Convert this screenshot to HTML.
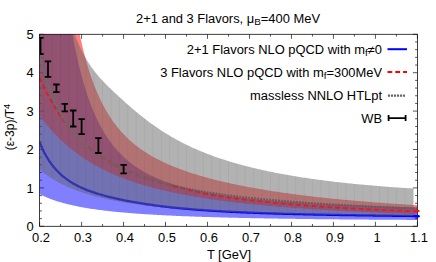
<!DOCTYPE html>
<html><head><meta charset="utf-8"><title>chart</title>
<style>
html,body{margin:0;padding:0;background:#fff;}
body{width:436px;height:262px;position:relative;overflow:hidden;font-family:"Liberation Sans",sans-serif;}
.t{position:absolute;font-size:12px;line-height:14px;color:#000;white-space:nowrap;}
.sub{font-size:9.2px;position:relative;top:2.4px;line-height:0}
.sup{font-size:9.2px;position:relative;top:-4.5px;line-height:0}
</style></head><body>
<svg width="436" height="262" viewBox="0 0 436 262" style="position:absolute;left:0;top:0">
<defs><clipPath id="c"><rect x="39.6" y="34.3" width="377.79999999999995" height="192.0"/></clipPath></defs>
<path d="M39.60,226.3 v-4.5 M39.60,34.3 v4.5 M60.59,226.3 v-2.3 M60.59,34.3 v2.3 M81.58,226.3 v-4.5 M81.58,34.3 v4.5 M102.57,226.3 v-2.3 M102.57,34.3 v2.3 M123.56,226.3 v-4.5 M123.56,34.3 v4.5 M144.54,226.3 v-2.3 M144.54,34.3 v2.3 M165.53,226.3 v-4.5 M165.53,34.3 v4.5 M186.52,226.3 v-2.3 M186.52,34.3 v2.3 M207.51,226.3 v-4.5 M207.51,34.3 v4.5 M228.50,226.3 v-2.3 M228.50,34.3 v2.3 M249.49,226.3 v-4.5 M249.49,34.3 v4.5 M270.48,226.3 v-2.3 M270.48,34.3 v2.3 M291.47,226.3 v-4.5 M291.47,34.3 v4.5 M312.46,226.3 v-2.3 M312.46,34.3 v2.3 M333.44,226.3 v-4.5 M333.44,34.3 v4.5 M354.43,226.3 v-2.3 M354.43,34.3 v2.3 M375.42,226.3 v-4.5 M375.42,34.3 v4.5 M396.41,226.3 v-2.3 M396.41,34.3 v2.3 M417.40,226.3 v-4.5 M417.40,34.3 v4.5 M39.6,226.30 h4.5 M417.4,226.30 h-4.5 M39.6,218.62 h2.3 M417.4,218.62 h-2.3 M39.6,210.94 h2.3 M417.4,210.94 h-2.3 M39.6,203.26 h2.3 M417.4,203.26 h-2.3 M39.6,195.58 h2.3 M417.4,195.58 h-2.3 M39.6,187.90 h4.5 M417.4,187.90 h-4.5 M39.6,180.22 h2.3 M417.4,180.22 h-2.3 M39.6,172.54 h2.3 M417.4,172.54 h-2.3 M39.6,164.86 h2.3 M417.4,164.86 h-2.3 M39.6,157.18 h2.3 M417.4,157.18 h-2.3 M39.6,149.50 h4.5 M417.4,149.50 h-4.5 M39.6,141.82 h2.3 M417.4,141.82 h-2.3 M39.6,134.14 h2.3 M417.4,134.14 h-2.3 M39.6,126.46 h2.3 M417.4,126.46 h-2.3 M39.6,118.78 h2.3 M417.4,118.78 h-2.3 M39.6,111.10 h4.5 M417.4,111.10 h-4.5 M39.6,103.42 h2.3 M417.4,103.42 h-2.3 M39.6,95.74 h2.3 M417.4,95.74 h-2.3 M39.6,88.06 h2.3 M417.4,88.06 h-2.3 M39.6,80.38 h2.3 M417.4,80.38 h-2.3 M39.6,72.70 h4.5 M417.4,72.70 h-4.5 M39.6,65.02 h2.3 M417.4,65.02 h-2.3 M39.6,57.34 h2.3 M417.4,57.34 h-2.3 M39.6,49.66 h2.3 M417.4,49.66 h-2.3 M39.6,41.98 h2.3 M417.4,41.98 h-2.3 M39.6,34.30 h4.5 M417.4,34.30 h-4.5" fill="none" stroke="#111" stroke-width="0.7"/>
<g clip-path="url(#c)">
<path d="M39.60,-363.81 L41.06,-330.32 L42.52,-299.25 L43.98,-270.39 L45.43,-243.55 L46.89,-218.56 L48.35,-195.26 L49.81,-173.52 L51.27,-153.21 L52.73,-134.21 L54.19,-116.43 L55.65,-99.77 L57.10,-84.14 L58.56,-69.47 L60.02,-55.68 L61.48,-42.71 L62.94,-30.51 L64.40,-19.01 L65.86,-8.17 L67.32,2.05 L68.77,11.71 L70.23,20.84 L71.69,29.46 L73.15,37.62 L74.61,45.27 L76.07,52.43 L77.53,59.14 L78.98,65.44 L80.44,71.36 L81.90,76.92 L83.36,82.16 L84.82,87.11 L86.28,91.77 L87.74,96.18 L89.20,100.34 L90.65,104.28 L92.11,108.02 L93.57,111.56 L95.03,114.92 L96.49,118.11 L97.95,121.14 L99.41,124.03 L100.86,126.78 L102.32,129.40 L103.78,131.89 L105.24,134.28 L106.70,136.55 L108.16,138.73 L109.62,140.80 L111.08,142.79 L112.53,144.70 L113.99,146.52 L115.45,148.27 L116.91,149.94 L118.37,151.55 L119.83,153.10 L121.29,154.58 L122.75,156.01 L124.20,157.38 L125.66,158.70 L127.12,159.97 L128.58,161.20 L130.04,162.38 L131.50,163.51 L132.96,164.61 L134.41,165.67 L135.87,166.69 L137.33,167.68 L138.79,168.63 L140.25,169.55 L141.71,170.44 L143.17,171.31 L144.63,172.14 L146.08,172.95 L147.54,173.73 L149.00,174.49 L150.46,175.22 L151.92,175.93 L153.38,176.62 L154.84,177.29 L156.29,177.94 L157.75,178.57 L159.21,179.19 L160.67,179.78 L162.13,180.36 L163.59,180.92 L165.05,181.47 L166.51,182.00 L167.96,182.52 L169.42,183.02 L170.88,183.51 L172.34,183.99 L173.80,184.45 L175.26,184.90 L176.72,185.34 L178.18,185.77 L179.63,186.19 L181.09,186.60 L182.55,187.00 L184.01,187.39 L185.47,187.77 L186.93,188.14 L188.39,188.50 L189.84,188.85 L191.30,189.19 L192.76,189.53 L194.22,189.86 L195.68,190.18 L197.14,190.49 L198.60,190.80 L200.06,191.10 L201.51,191.39 L202.97,191.68 L204.43,191.96 L205.89,192.24 L207.35,192.50 L208.81,192.77 L210.27,193.03 L211.73,193.28 L213.18,193.52 L214.64,193.77 L216.10,194.00 L217.56,194.24 L219.02,194.46 L220.48,194.69 L221.94,194.91 L223.39,195.12 L224.85,195.33 L226.31,195.54 L227.77,195.74 L229.23,195.94 L230.69,196.14 L232.15,196.33 L233.61,196.52 L235.06,196.70 L236.52,196.88 L237.98,197.06 L239.44,197.24 L240.90,197.41 L242.36,197.58 L243.82,197.74 L245.27,197.91 L246.73,198.07 L248.19,198.22 L249.65,198.38 L251.11,198.53 L252.57,198.68 L254.03,198.83 L255.49,198.97 L256.94,199.11 L258.40,199.25 L259.86,199.39 L261.32,199.53 L262.78,199.66 L264.24,199.79 L265.70,199.92 L267.16,200.05 L268.61,200.18 L270.07,200.30 L271.53,200.42 L272.99,200.54 L274.45,200.66 L275.91,200.78 L277.37,200.89 L278.82,201.00 L280.28,201.12 L281.74,201.23 L283.20,201.33 L284.66,201.44 L286.12,201.55 L287.58,201.65 L289.04,201.75 L290.49,201.85 L291.95,201.95 L293.41,202.05 L294.87,202.15 L296.33,202.24 L297.79,202.34 L299.25,202.43 L300.71,202.52 L302.16,202.61 L303.62,202.70 L305.08,202.79 L306.54,202.88 L308.00,202.96 L309.46,203.05 L310.92,203.13 L312.37,203.22 L313.83,203.30 L315.29,203.38 L316.75,203.46 L318.21,203.54 L319.67,203.62 L321.13,203.69 L322.59,203.77 L324.04,203.85 L325.50,203.92 L326.96,203.99 L328.42,204.07 L329.88,204.14 L331.34,204.21 L332.80,204.28 L334.25,204.35 L335.71,204.42 L337.17,204.49 L338.63,204.55 L340.09,204.62 L341.55,204.69 L343.01,204.75 L344.47,204.82 L345.92,204.88 L347.38,204.94 L348.84,205.01 L350.30,205.07 L351.76,205.13 L353.22,205.19 L354.68,205.25 L356.14,205.31 L357.59,205.37 L359.05,205.43 L360.51,205.48 L361.97,205.54 L363.43,205.60 L364.89,205.65 L366.35,205.71 L367.80,205.76 L369.26,205.82 L370.72,205.87 L372.18,205.93 L373.64,205.98 L375.10,206.03 L376.56,206.08 L378.02,206.13 L379.47,206.19 L380.93,206.24 L382.39,206.29 L383.85,206.34 L385.31,206.39 L386.77,206.44 L388.23,206.48 L389.68,206.53 L391.14,206.58 L392.60,206.63 L394.06,206.67 L395.52,206.72 L396.98,206.77 L398.44,206.81 L399.90,206.86 L401.35,206.90 L402.81,206.95 L404.27,206.99 L405.73,207.04 L407.19,207.08 L408.65,207.12 L410.11,207.17 L411.57,207.21 L413.02,207.25 L414.48,207.29 L415.94,207.34 L417.40,207.38 L417.40,219.93 L415.94,219.92 L414.48,219.92 L413.02,219.91 L411.57,219.90 L410.11,219.89 L408.65,219.89 L407.19,219.88 L405.73,219.87 L404.27,219.86 L402.81,219.85 L401.35,219.84 L399.90,219.84 L398.44,219.83 L396.98,219.82 L395.52,219.81 L394.06,219.80 L392.60,219.79 L391.14,219.78 L389.68,219.77 L388.23,219.76 L386.77,219.76 L385.31,219.75 L383.85,219.74 L382.39,219.73 L380.93,219.72 L379.47,219.71 L378.02,219.70 L376.56,219.69 L375.10,219.68 L373.64,219.67 L372.18,219.66 L370.72,219.64 L369.26,219.63 L367.80,219.62 L366.35,219.61 L364.89,219.60 L363.43,219.59 L361.97,219.58 L360.51,219.57 L359.05,219.55 L357.59,219.54 L356.14,219.53 L354.68,219.52 L353.22,219.51 L351.76,219.49 L350.30,219.48 L348.84,219.47 L347.38,219.45 L345.92,219.44 L344.47,219.43 L343.01,219.41 L341.55,219.40 L340.09,219.39 L338.63,219.37 L337.17,219.36 L335.71,219.35 L334.25,219.33 L332.80,219.32 L331.34,219.30 L329.88,219.29 L328.42,219.27 L326.96,219.26 L325.50,219.24 L324.04,219.23 L322.59,219.21 L321.13,219.19 L319.67,219.18 L318.21,219.16 L316.75,219.14 L315.29,219.13 L313.83,219.11 L312.37,219.09 L310.92,219.08 L309.46,219.06 L308.00,219.04 L306.54,219.02 L305.08,219.00 L303.62,218.98 L302.16,218.97 L300.71,218.95 L299.25,218.93 L297.79,218.91 L296.33,218.89 L294.87,218.87 L293.41,218.85 L291.95,218.83 L290.49,218.81 L289.04,218.79 L287.58,218.76 L286.12,218.74 L284.66,218.72 L283.20,218.70 L281.74,218.68 L280.28,218.65 L278.82,218.63 L277.37,218.61 L275.91,218.58 L274.45,218.56 L272.99,218.54 L271.53,218.51 L270.07,218.49 L268.61,218.46 L267.16,218.44 L265.70,218.41 L264.24,218.38 L262.78,218.36 L261.32,218.33 L259.86,218.30 L258.40,218.28 L256.94,218.25 L255.49,218.22 L254.03,218.19 L252.57,218.16 L251.11,218.13 L249.65,218.10 L248.19,218.07 L246.73,218.04 L245.27,218.01 L243.82,217.98 L242.36,217.95 L240.90,217.91 L239.44,217.88 L237.98,217.85 L236.52,217.81 L235.06,217.78 L233.61,217.75 L232.15,217.71 L230.69,217.67 L229.23,217.64 L227.77,217.60 L226.31,217.56 L224.85,217.53 L223.39,217.49 L221.94,217.45 L220.48,217.41 L219.02,217.37 L217.56,217.33 L216.10,217.29 L214.64,217.24 L213.18,217.20 L211.73,217.16 L210.27,217.12 L208.81,217.07 L207.35,217.03 L205.89,216.98 L204.43,216.93 L202.97,216.89 L201.51,216.84 L200.06,216.79 L198.60,216.74 L197.14,216.69 L195.68,216.64 L194.22,216.58 L192.76,216.53 L191.30,216.48 L189.84,216.42 L188.39,216.37 L186.93,216.31 L185.47,216.25 L184.01,216.20 L182.55,216.14 L181.09,216.08 L179.63,216.01 L178.18,215.95 L176.72,215.89 L175.26,215.82 L173.80,215.76 L172.34,215.69 L170.88,215.62 L169.42,215.55 L167.96,215.48 L166.51,215.41 L165.05,215.34 L163.59,215.26 L162.13,215.19 L160.67,215.11 L159.21,215.03 L157.75,214.95 L156.29,214.87 L154.84,214.79 L153.38,214.70 L151.92,214.62 L150.46,214.53 L149.00,214.44 L147.54,214.35 L146.08,214.25 L144.63,214.16 L143.17,214.06 L141.71,213.96 L140.25,213.86 L138.79,213.76 L137.33,213.66 L135.87,213.55 L134.41,213.44 L132.96,213.33 L131.50,213.21 L130.04,213.10 L128.58,212.98 L127.12,212.86 L125.66,212.73 L124.20,212.60 L122.75,212.47 L121.29,212.34 L119.83,212.21 L118.37,212.07 L116.91,211.92 L115.45,211.78 L113.99,211.63 L112.53,211.48 L111.08,211.32 L109.62,211.16 L108.16,211.00 L106.70,210.83 L105.24,210.66 L103.78,210.48 L102.32,210.30 L100.86,210.12 L99.41,209.93 L97.95,209.73 L96.49,209.53 L95.03,209.33 L93.57,209.11 L92.11,208.90 L90.65,208.67 L89.20,208.45 L87.74,208.21 L86.28,207.97 L84.82,207.72 L83.36,207.46 L81.90,207.20 L80.44,206.93 L78.98,206.65 L77.53,206.36 L76.07,206.06 L74.61,205.76 L73.15,205.44 L71.69,205.12 L70.23,204.78 L68.77,204.43 L67.32,204.08 L65.86,203.71 L64.40,203.32 L62.94,202.93 L61.48,202.52 L60.02,202.09 L58.56,201.65 L57.10,201.20 L55.65,200.72 L54.19,200.23 L52.73,199.73 L51.27,199.20 L49.81,198.65 L48.35,198.08 L46.89,197.49 L45.43,196.87 L43.98,196.23 L42.52,195.56 L41.06,194.86 L39.60,194.13Z" fill="#0000ff" fill-opacity="0.5"/>
<path d="M39.60,142.31 L41.06,145.79 L42.52,148.99 L43.98,151.95 L45.43,154.69 L46.89,157.23 L48.35,159.59 L49.81,161.79 L51.27,163.84 L52.73,165.76 L54.19,167.55 L55.65,169.23 L57.10,170.81 L58.56,172.30 L60.02,173.70 L61.48,175.02 L62.94,176.27 L64.40,177.45 L65.86,178.57 L67.32,179.64 L68.77,180.64 L70.23,181.60 L71.69,182.52 L73.15,183.39 L74.61,184.22 L76.07,185.02 L77.53,185.78 L78.98,186.51 L80.44,187.20 L81.90,187.87 L83.36,188.52 L84.82,189.14 L86.28,189.73 L87.74,190.31 L89.20,190.86 L90.65,191.39 L92.11,191.91 L93.57,192.41 L95.03,192.89 L96.49,193.36 L97.95,193.82 L99.41,194.26 L100.86,194.69 L102.32,195.10 L103.78,195.51 L105.24,195.90 L106.70,196.29 L108.16,196.66 L109.62,197.03 L111.08,197.38 L112.53,197.73 L113.99,198.07 L115.45,198.40 L116.91,198.73 L118.37,199.05 L119.83,199.36 L121.29,199.67 L122.75,199.97 L124.20,200.26 L125.66,200.55 L127.12,200.83 L128.58,201.11 L130.04,201.39 L131.50,201.65 L132.96,201.92 L134.41,202.18 L135.87,202.43 L137.33,202.68 L138.79,202.92 L140.25,203.16 L141.71,203.40 L143.17,203.63 L144.63,203.86 L146.08,204.08 L147.54,204.30 L149.00,204.51 L150.46,204.72 L151.92,204.92 L153.38,205.13 L154.84,205.32 L156.29,205.52 L157.75,205.71 L159.21,205.90 L160.67,206.08 L162.13,206.26 L163.59,206.43 L165.05,206.61 L166.51,206.78 L167.96,206.94 L169.42,207.11 L170.88,207.27 L172.34,207.42 L173.80,207.58 L175.26,207.73 L176.72,207.88 L178.18,208.02 L179.63,208.16 L181.09,208.30 L182.55,208.44 L184.01,208.58 L185.47,208.71 L186.93,208.84 L188.39,208.96 L189.84,209.09 L191.30,209.21 L192.76,209.33 L194.22,209.45 L195.68,209.56 L197.14,209.68 L198.60,209.79 L200.06,209.90 L201.51,210.00 L202.97,210.11 L204.43,210.21 L205.89,210.31 L207.35,210.41 L208.81,210.50 L210.27,210.60 L211.73,210.69 L213.18,210.78 L214.64,210.87 L216.10,210.96 L217.56,211.05 L219.02,211.13 L220.48,211.22 L221.94,211.30 L223.39,211.38 L224.85,211.46 L226.31,211.53 L227.77,211.61 L229.23,211.69 L230.69,211.76 L232.15,211.83 L233.61,211.90 L235.06,211.97 L236.52,212.04 L237.98,212.11 L239.44,212.17 L240.90,212.24 L242.36,212.30 L243.82,212.37 L245.27,212.43 L246.73,212.49 L248.19,212.55 L249.65,212.61 L251.11,212.67 L252.57,212.72 L254.03,212.78 L255.49,212.84 L256.94,212.89 L258.40,212.94 L259.86,213.00 L261.32,213.05 L262.78,213.10 L264.24,213.15 L265.70,213.20 L267.16,213.25 L268.61,213.30 L270.07,213.34 L271.53,213.39 L272.99,213.44 L274.45,213.48 L275.91,213.52 L277.37,213.57 L278.82,213.61 L280.28,213.65 L281.74,213.70 L283.20,213.74 L284.66,213.78 L286.12,213.82 L287.58,213.86 L289.04,213.90 L290.49,213.93 L291.95,213.97 L293.41,214.01 L294.87,214.05 L296.33,214.08 L297.79,214.12 L299.25,214.15 L300.71,214.19 L302.16,214.22 L303.62,214.26 L305.08,214.29 L306.54,214.32 L308.00,214.35 L309.46,214.39 L310.92,214.42 L312.37,214.45 L313.83,214.48 L315.29,214.51 L316.75,214.54 L318.21,214.57 L319.67,214.60 L321.13,214.63 L322.59,214.66 L324.04,214.69 L325.50,214.72 L326.96,214.74 L328.42,214.77 L329.88,214.80 L331.34,214.82 L332.80,214.85 L334.25,214.88 L335.71,214.90 L337.17,214.93 L338.63,214.95 L340.09,214.98 L341.55,215.00 L343.01,215.03 L344.47,215.05 L345.92,215.08 L347.38,215.10 L348.84,215.13 L350.30,215.15 L351.76,215.17 L353.22,215.19 L354.68,215.22 L356.14,215.24 L357.59,215.26 L359.05,215.28 L360.51,215.31 L361.97,215.33 L363.43,215.35 L364.89,215.37 L366.35,215.39 L367.80,215.41 L369.26,215.43 L370.72,215.45 L372.18,215.47 L373.64,215.49 L375.10,215.51 L376.56,215.53 L378.02,215.55 L379.47,215.57 L380.93,215.59 L382.39,215.61 L383.85,215.63 L385.31,215.65 L386.77,215.67 L388.23,215.69 L389.68,215.70 L391.14,215.72 L392.60,215.74 L394.06,215.76 L395.52,215.78 L396.98,215.79 L398.44,215.81 L399.90,215.83 L401.35,215.85 L402.81,215.86 L404.27,215.88 L405.73,215.90 L407.19,215.92 L408.65,215.93 L410.11,215.95 L411.57,215.97 L413.02,215.98 L414.48,216.00 L415.94,216.01 L417.40,216.03" fill="none" stroke="#0000ff" stroke-width="2.3"/>
<path d="M39.60,-401.02 L41.06,-369.09 L42.52,-339.27 L43.98,-311.41 L45.43,-285.35 L46.89,-260.94 L48.35,-238.05 L49.81,-216.57 L51.27,-196.40 L52.73,-177.42 L54.19,-159.57 L55.65,-142.74 L57.10,-126.88 L58.56,-111.92 L60.02,-97.78 L61.48,-84.42 L62.94,-71.78 L64.40,-59.82 L65.86,-48.48 L67.32,-37.74 L68.77,-27.55 L70.23,-17.87 L71.69,-8.68 L73.15,0.06 L74.61,8.37 L76.07,16.28 L77.53,23.81 L78.98,30.99 L80.44,37.82 L81.90,44.23 L83.36,50.24 L84.82,55.90 L86.28,61.21 L87.74,66.22 L89.20,70.94 L90.65,75.40 L92.11,79.61 L93.57,83.60 L95.03,87.38 L96.49,90.96 L97.95,94.36 L99.41,97.59 L100.86,100.66 L102.32,103.58 L103.78,106.37 L105.24,109.03 L106.70,111.56 L108.16,113.99 L109.62,116.30 L111.08,118.52 L112.53,120.64 L113.99,122.67 L115.45,124.62 L116.91,126.50 L118.37,128.30 L119.83,130.02 L121.29,131.69 L122.75,133.29 L124.20,134.83 L125.66,136.31 L127.12,137.75 L128.58,139.13 L130.04,140.46 L131.50,141.75 L132.96,143.00 L134.41,144.21 L135.87,145.38 L137.33,146.51 L138.79,147.60 L140.25,148.67 L141.71,149.70 L143.17,150.70 L144.63,151.67 L146.08,152.61 L147.54,153.53 L149.00,154.42 L150.46,155.29 L151.92,156.14 L153.38,156.96 L154.84,157.76 L156.29,158.55 L157.75,159.31 L159.21,160.06 L160.67,160.78 L162.13,161.49 L163.59,162.19 L165.05,162.86 L166.51,163.53 L167.96,164.18 L169.42,164.81 L170.88,165.43 L172.34,166.04 L173.80,166.64 L175.26,167.22 L176.72,167.80 L178.18,168.36 L179.63,168.91 L181.09,169.45 L182.55,169.99 L184.01,170.51 L185.47,171.02 L186.93,171.53 L188.39,172.02 L189.84,172.51 L191.30,172.99 L192.76,173.46 L194.22,173.92 L195.68,174.37 L197.14,174.82 L198.60,175.26 L200.06,175.69 L201.51,176.12 L202.97,176.54 L204.43,176.95 L205.89,177.36 L207.35,177.76 L208.81,178.15 L210.27,178.54 L211.73,178.92 L213.18,179.30 L214.64,179.67 L216.10,180.04 L217.56,180.40 L219.02,180.75 L220.48,181.10 L221.94,181.45 L223.39,181.79 L224.85,182.13 L226.31,182.46 L227.77,182.79 L229.23,183.11 L230.69,183.43 L232.15,183.74 L233.61,184.05 L235.06,184.36 L236.52,184.66 L237.98,184.96 L239.44,185.25 L240.90,185.54 L242.36,185.83 L243.82,186.12 L245.27,186.40 L246.73,186.67 L248.19,186.95 L249.65,187.22 L251.11,187.49 L252.57,187.75 L254.03,188.01 L255.49,188.27 L256.94,188.53 L258.40,188.78 L259.86,189.03 L261.32,189.28 L262.78,189.52 L264.24,189.76 L265.70,190.00 L267.16,190.24 L268.61,190.47 L270.07,190.70 L271.53,190.93 L272.99,191.16 L274.45,191.38 L275.91,191.60 L277.37,191.82 L278.82,192.04 L280.28,192.26 L281.74,192.47 L283.20,192.68 L284.66,192.89 L286.12,193.09 L287.58,193.30 L289.04,193.50 L290.49,193.70 L291.95,193.90 L293.41,194.09 L294.87,194.29 L296.33,194.48 L297.79,194.67 L299.25,194.86 L300.71,195.04 L302.16,195.23 L303.62,195.41 L305.08,195.59 L306.54,195.77 L308.00,195.95 L309.46,196.12 L310.92,196.29 L312.37,196.47 L313.83,196.63 L315.29,196.80 L316.75,196.97 L318.21,197.13 L319.67,197.30 L321.13,197.46 L322.59,197.62 L324.04,197.77 L325.50,197.93 L326.96,198.08 L328.42,198.24 L329.88,198.39 L331.34,198.54 L332.80,198.69 L334.25,198.83 L335.71,198.98 L337.17,199.12 L338.63,199.26 L340.09,199.41 L341.55,199.54 L343.01,199.68 L344.47,199.82 L345.92,199.95 L347.38,200.09 L348.84,200.22 L350.30,200.35 L351.76,200.48 L353.22,200.61 L354.68,200.74 L356.14,200.86 L357.59,200.99 L359.05,201.11 L360.51,201.23 L361.97,201.35 L363.43,201.47 L364.89,201.59 L366.35,201.71 L367.80,201.83 L369.26,201.94 L370.72,202.06 L372.18,202.17 L373.64,202.28 L375.10,202.39 L376.56,202.50 L378.02,202.61 L379.47,202.71 L380.93,202.82 L382.39,202.93 L383.85,203.03 L385.31,203.13 L386.77,203.24 L388.23,203.34 L389.68,203.44 L391.14,203.54 L392.60,203.63 L394.06,203.73 L395.52,203.83 L396.98,203.92 L398.44,204.02 L399.90,204.11 L401.35,204.20 L402.81,204.29 L404.27,204.38 L405.73,204.47 L407.19,204.56 L408.65,204.65 L410.11,204.74 L411.57,204.82 L413.02,204.91 L414.48,204.99 L415.94,205.08 L417.40,205.16 L417.40,214.12 L415.94,214.07 L414.48,214.02 L413.02,213.97 L411.57,213.92 L410.11,213.87 L408.65,213.82 L407.19,213.77 L405.73,213.72 L404.27,213.66 L402.81,213.61 L401.35,213.56 L399.90,213.50 L398.44,213.45 L396.98,213.39 L395.52,213.34 L394.06,213.28 L392.60,213.23 L391.14,213.17 L389.68,213.11 L388.23,213.06 L386.77,213.00 L385.31,212.94 L383.85,212.88 L382.39,212.82 L380.93,212.76 L379.47,212.70 L378.02,212.64 L376.56,212.58 L375.10,212.51 L373.64,212.45 L372.18,212.39 L370.72,212.32 L369.26,212.26 L367.80,212.19 L366.35,212.13 L364.89,212.06 L363.43,212.00 L361.97,211.93 L360.51,211.86 L359.05,211.79 L357.59,211.72 L356.14,211.65 L354.68,211.58 L353.22,211.51 L351.76,211.44 L350.30,211.37 L348.84,211.29 L347.38,211.22 L345.92,211.14 L344.47,211.07 L343.01,210.99 L341.55,210.92 L340.09,210.84 L338.63,210.76 L337.17,210.68 L335.71,210.60 L334.25,210.52 L332.80,210.44 L331.34,210.36 L329.88,210.27 L328.42,210.19 L326.96,210.10 L325.50,210.02 L324.04,209.93 L322.59,209.85 L321.13,209.76 L319.67,209.67 L318.21,209.58 L316.75,209.49 L315.29,209.40 L313.83,209.30 L312.37,209.21 L310.92,209.12 L309.46,209.02 L308.00,208.92 L306.54,208.83 L305.08,208.73 L303.62,208.63 L302.16,208.53 L300.71,208.43 L299.25,208.32 L297.79,208.22 L296.33,208.11 L294.87,208.01 L293.41,207.90 L291.95,207.79 L290.49,207.68 L289.04,207.57 L287.58,207.46 L286.12,207.35 L284.66,207.23 L283.20,207.12 L281.74,207.00 L280.28,206.88 L278.82,206.76 L277.37,206.64 L275.91,206.52 L274.45,206.40 L272.99,206.27 L271.53,206.14 L270.07,206.02 L268.61,205.89 L267.16,205.76 L265.70,205.62 L264.24,205.49 L262.78,205.35 L261.32,205.22 L259.86,205.08 L258.40,204.94 L256.94,204.80 L255.49,204.65 L254.03,204.51 L252.57,204.36 L251.11,204.21 L249.65,204.06 L248.19,203.91 L246.73,203.75 L245.27,203.60 L243.82,203.44 L242.36,203.28 L240.90,203.12 L239.44,202.95 L237.98,202.79 L236.52,202.62 L235.06,202.45 L233.61,202.27 L232.15,202.10 L230.69,201.92 L229.23,201.74 L227.77,201.56 L226.31,201.38 L224.85,201.19 L223.39,201.00 L221.94,200.81 L220.48,200.62 L219.02,200.42 L217.56,200.22 L216.10,200.02 L214.64,199.81 L213.18,199.61 L211.73,199.40 L210.27,199.18 L208.81,198.97 L207.35,198.75 L205.89,198.52 L204.43,198.30 L202.97,198.07 L201.51,197.84 L200.06,197.60 L198.60,197.37 L197.14,197.12 L195.68,196.88 L194.22,196.63 L192.76,196.38 L191.30,196.12 L189.84,195.86 L188.39,195.60 L186.93,195.33 L185.47,195.06 L184.01,194.78 L182.55,194.50 L181.09,194.22 L179.63,193.93 L178.18,193.64 L176.72,193.34 L175.26,193.04 L173.80,192.73 L172.34,192.42 L170.88,192.11 L169.42,191.79 L167.96,191.46 L166.51,191.13 L165.05,190.79 L163.59,190.45 L162.13,190.10 L160.67,189.75 L159.21,189.39 L157.75,189.02 L156.29,188.65 L154.84,188.28 L153.38,187.89 L151.92,187.50 L150.46,187.10 L149.00,186.70 L147.54,186.29 L146.08,185.87 L144.63,185.45 L143.17,185.02 L141.71,184.58 L140.25,184.13 L138.79,183.67 L137.33,183.21 L135.87,182.74 L134.41,182.26 L132.96,181.77 L131.50,181.27 L130.04,180.76 L128.58,180.25 L127.12,179.72 L125.66,179.19 L124.20,178.64 L122.75,178.08 L121.29,177.52 L119.83,176.94 L118.37,176.35 L116.91,175.75 L115.45,175.14 L113.99,174.51 L112.53,173.88 L111.08,173.23 L109.62,172.57 L108.16,171.89 L106.70,171.20 L105.24,170.50 L103.78,169.78 L102.32,169.05 L100.86,168.30 L99.41,167.54 L97.95,166.76 L96.49,165.97 L95.03,165.16 L93.57,164.33 L92.11,163.48 L90.65,162.62 L89.20,161.73 L87.74,160.83 L86.28,159.90 L84.82,158.96 L83.36,158.00 L81.90,157.01 L80.44,156.00 L78.98,154.97 L77.53,153.91 L76.07,152.84 L74.61,151.73 L73.15,150.60 L71.69,149.45 L70.23,148.26 L68.77,147.05 L67.32,145.81 L65.86,144.54 L64.40,143.25 L62.94,141.91 L61.48,140.55 L60.02,139.16 L58.56,137.73 L57.10,136.26 L55.65,134.76 L54.19,133.22 L52.73,131.65 L51.27,130.03 L49.81,128.38 L48.35,126.68 L46.89,124.94 L45.43,123.16 L43.98,121.33 L42.52,119.46 L41.06,117.53 L39.60,115.57Z" fill="#ff0000" fill-opacity="0.5"/>
<path d="M39.60,-117.67 L41.04,-108.01 L42.49,-98.78 L43.93,-89.94 L45.37,-81.49 L46.82,-73.38 L48.26,-65.62 L49.71,-58.17 L51.15,-51.02 L52.59,-44.15 L54.04,-37.56 L55.48,-31.21 L56.92,-25.11 L58.37,-19.23 L59.81,-13.57 L61.25,-8.12 L62.70,-2.86 L64.14,2.22 L65.59,7.11 L67.03,11.84 L68.47,16.40 L69.92,20.82 L71.36,25.08 L72.80,29.21 L74.25,33.20 L75.69,37.03 L77.13,40.63 L78.58,44.01 L80.02,47.19 L81.47,50.19 L82.91,53.03 L84.35,55.71 L85.80,58.25 L87.24,60.67 L88.68,62.97 L90.13,65.17 L91.57,67.26 L93.01,69.27 L94.46,71.19 L95.90,73.03 L97.35,74.81 L98.79,76.52 L100.23,78.18 L101.68,79.78 L103.12,81.33 L104.56,82.83 L106.01,84.31 L107.45,85.75 L108.89,87.16 L110.34,88.55 L111.78,89.93 L113.23,91.29 L114.67,92.64 L116.11,93.98 L117.56,95.31 L119.00,96.65 L120.44,97.97 L121.89,99.29 L123.33,100.60 L124.77,101.90 L126.22,103.19 L127.66,104.47 L129.11,105.74 L130.55,107.00 L131.99,108.25 L133.44,109.48 L134.88,110.70 L136.32,111.91 L137.77,113.10 L139.21,114.28 L140.65,115.45 L142.10,116.60 L143.54,117.73 L144.98,118.85 L146.43,119.96 L147.87,121.05 L149.32,122.13 L150.76,123.19 L152.20,124.23 L153.65,125.26 L155.09,126.28 L156.53,127.28 L157.98,128.26 L159.42,129.23 L160.86,130.19 L162.31,131.13 L163.75,132.05 L165.20,132.96 L166.64,133.85 L168.08,134.74 L169.53,135.60 L170.97,136.45 L172.41,137.29 L173.86,138.11 L175.30,138.92 L176.74,139.72 L178.19,140.50 L179.63,141.27 L181.08,142.03 L182.52,142.77 L183.96,143.50 L185.41,144.22 L186.85,144.93 L188.29,145.62 L189.74,146.31 L191.18,146.98 L192.62,147.64 L194.07,148.29 L195.51,148.94 L196.96,149.57 L198.40,150.19 L199.84,150.80 L201.29,151.40 L202.73,151.99 L204.17,152.57 L205.62,153.14 L207.06,153.71 L208.50,154.26 L209.95,154.81 L211.39,155.35 L212.84,155.88 L214.28,156.40 L215.72,156.91 L217.17,157.42 L218.61,157.92 L220.05,158.41 L221.50,158.89 L222.94,159.37 L224.38,159.84 L225.83,160.30 L227.27,160.76 L228.72,161.20 L230.16,161.65 L231.60,162.08 L233.05,162.51 L234.49,162.93 L235.93,163.35 L237.38,163.76 L238.82,164.17 L240.26,164.57 L241.71,164.96 L243.15,165.35 L244.60,165.73 L246.04,166.11 L247.48,166.48 L248.93,166.85 L250.37,167.21 L251.81,167.56 L253.26,167.91 L254.70,168.26 L256.14,168.60 L257.59,168.94 L259.03,169.27 L260.48,169.60 L261.92,169.92 L263.36,170.24 L264.81,170.56 L266.25,170.87 L267.69,171.17 L269.14,171.48 L270.58,171.77 L272.02,172.07 L273.47,172.36 L274.91,172.65 L276.36,172.93 L277.80,173.21 L279.24,173.48 L280.69,173.75 L282.13,174.02 L283.57,174.29 L285.02,174.55 L286.46,174.81 L287.90,175.06 L289.35,175.31 L290.79,175.56 L292.24,175.80 L293.68,176.05 L295.12,176.28 L296.57,176.52 L298.01,176.75 L299.45,176.98 L300.90,177.21 L302.34,177.43 L303.78,177.65 L305.23,177.87 L306.67,178.09 L308.12,178.30 L309.56,178.51 L311.00,178.72 L312.45,178.92 L313.89,179.12 L315.33,179.32 L316.78,179.52 L318.22,179.72 L319.66,179.91 L321.11,180.10 L322.55,180.29 L323.99,180.47 L325.44,180.66 L326.88,180.84 L328.33,181.02 L329.77,181.19 L331.21,181.37 L332.66,181.54 L334.10,181.71 L335.54,181.88 L336.99,182.05 L338.43,182.21 L339.87,182.37 L341.32,182.53 L342.76,182.69 L344.21,182.85 L345.65,183.00 L347.09,183.16 L348.54,183.31 L349.98,183.46 L351.42,183.60 L352.87,183.75 L354.31,183.89 L355.75,184.04 L357.20,184.18 L358.64,184.32 L360.09,184.45 L361.53,184.59 L362.97,184.72 L364.42,184.86 L365.86,184.99 L367.30,185.12 L368.75,185.24 L370.19,185.37 L371.63,185.50 L373.08,185.62 L374.52,185.74 L375.97,185.86 L377.41,185.98 L378.85,186.10 L380.30,186.22 L381.74,186.33 L383.18,186.45 L384.63,186.56 L386.07,186.67 L387.51,186.78 L388.96,186.89 L390.40,186.99 L391.85,187.10 L393.29,187.21 L394.73,187.31 L396.18,187.41 L397.62,187.51 L399.06,187.61 L400.51,187.71 L401.95,187.81 L403.39,187.91 L404.84,188.00 L406.28,188.10 L407.73,188.19 L409.17,188.28 L410.61,188.37 L412.06,188.46 L413.50,188.55 L413.50,215.98 L412.06,215.97 L410.61,215.96 L409.17,215.95 L407.73,215.94 L406.28,215.92 L404.84,215.91 L403.39,215.90 L401.95,215.89 L400.51,215.87 L399.06,215.86 L397.62,215.85 L396.18,215.83 L394.73,215.82 L393.29,215.81 L391.85,215.79 L390.40,215.78 L388.96,215.76 L387.51,215.75 L386.07,215.74 L384.63,215.72 L383.18,215.71 L381.74,215.69 L380.30,215.67 L378.85,215.66 L377.41,215.64 L375.97,215.63 L374.52,215.61 L373.08,215.59 L371.63,215.58 L370.19,215.56 L368.75,215.54 L367.30,215.52 L365.86,215.50 L364.42,215.49 L362.97,215.47 L361.53,215.45 L360.09,215.43 L358.64,215.41 L357.20,215.39 L355.75,215.37 L354.31,215.35 L352.87,215.33 L351.42,215.31 L349.98,215.29 L348.54,215.27 L347.09,215.25 L345.65,215.22 L344.21,215.20 L342.76,215.18 L341.32,215.16 L339.87,215.13 L338.43,215.11 L336.99,215.09 L335.54,215.06 L334.10,215.04 L332.66,215.01 L331.21,214.99 L329.77,214.96 L328.33,214.94 L326.88,214.91 L325.44,214.88 L323.99,214.86 L322.55,214.83 L321.11,214.80 L319.66,214.77 L318.22,214.75 L316.78,214.72 L315.33,214.69 L313.89,214.66 L312.45,214.63 L311.00,214.60 L309.56,214.57 L308.12,214.54 L306.67,214.51 L305.23,214.47 L303.78,214.44 L302.34,214.41 L300.90,214.37 L299.45,214.34 L298.01,214.31 L296.57,214.27 L295.12,214.24 L293.68,214.20 L292.24,214.17 L290.79,214.13 L289.35,214.09 L287.90,214.05 L286.46,214.02 L285.02,213.98 L283.57,213.94 L282.13,213.90 L280.69,213.86 L279.24,213.82 L277.80,213.78 L276.36,213.74 L274.91,213.69 L273.47,213.65 L272.02,213.61 L270.58,213.56 L269.14,213.52 L267.69,213.47 L266.25,213.43 L264.81,213.38 L263.36,213.33 L261.92,213.28 L260.48,213.23 L259.03,213.18 L257.59,213.13 L256.14,213.08 L254.70,213.03 L253.26,212.98 L251.81,212.93 L250.37,212.87 L248.93,212.82 L247.48,212.76 L246.04,212.71 L244.60,212.65 L243.15,212.59 L241.71,212.53 L240.26,212.47 L238.82,212.41 L237.38,212.35 L235.93,212.29 L234.49,212.23 L233.05,212.16 L231.60,212.10 L230.16,212.03 L228.72,211.97 L227.27,211.90 L225.83,211.83 L224.38,211.76 L222.94,211.69 L221.50,211.61 L220.05,211.54 L218.61,211.47 L217.17,211.39 L215.72,211.32 L214.28,211.24 L212.84,211.16 L211.39,211.08 L209.95,211.00 L208.50,210.91 L207.06,210.83 L205.62,210.74 L204.17,210.66 L202.73,210.57 L201.29,210.48 L199.84,210.39 L198.40,210.30 L196.96,210.20 L195.51,210.11 L194.07,210.01 L192.62,209.91 L191.18,209.81 L189.74,209.71 L188.29,209.60 L186.85,209.50 L185.41,209.39 L183.96,209.28 L182.52,209.17 L181.08,209.06 L179.63,208.94 L178.19,208.83 L176.74,208.71 L175.30,208.59 L173.86,208.46 L172.41,208.34 L170.97,208.21 L169.53,208.08 L168.08,207.95 L166.64,207.81 L165.20,207.68 L163.75,207.54 L162.31,207.39 L160.86,207.25 L159.42,207.10 L157.98,206.95 L156.53,206.80 L155.09,206.64 L153.65,206.49 L152.20,206.32 L150.76,206.16 L149.32,205.99 L147.87,205.82 L146.43,205.65 L144.98,205.47 L143.54,205.29 L142.10,205.10 L140.65,204.91 L139.21,204.72 L137.77,204.52 L136.32,204.32 L134.88,204.12 L133.44,203.91 L131.99,203.70 L130.55,203.48 L129.11,203.26 L127.66,203.03 L126.22,202.80 L124.77,202.56 L123.33,202.32 L121.89,202.07 L120.44,201.82 L119.00,201.56 L117.56,201.30 L116.11,201.03 L114.67,200.75 L113.23,200.47 L111.78,200.18 L110.34,199.88 L108.89,199.58 L107.45,199.27 L106.01,198.95 L104.56,198.63 L103.12,198.30 L101.68,197.96 L100.23,197.61 L98.79,197.25 L97.35,196.89 L95.90,196.51 L94.46,196.13 L93.01,195.73 L91.57,195.33 L90.13,194.91 L88.68,194.49 L87.24,194.05 L85.80,193.60 L84.35,193.14 L82.91,192.67 L81.47,192.18 L80.02,191.68 L78.58,191.17 L77.13,190.64 L75.69,190.10 L74.25,189.55 L72.80,188.97 L71.36,188.38 L69.92,187.78 L68.47,187.15 L67.03,186.51 L65.59,185.85 L64.14,185.16 L62.70,184.46 L61.25,183.73 L59.81,182.99 L58.37,182.22 L56.92,181.42 L55.48,180.60 L54.04,179.75 L52.59,178.88 L51.15,177.98 L49.71,177.04 L48.26,176.08 L46.82,175.08 L45.37,174.05 L43.93,172.98 L42.49,171.88 L41.04,170.74 L39.60,169.56Z" fill="#666666" fill-opacity="0.5"/>
<path d="M39.60,77.73 L40.55,79.88 L41.49,81.98 L42.44,84.03 L43.39,86.04 L44.33,88.00 L45.28,89.92 L46.23,91.80 L47.17,93.64 L48.12,95.44 L49.07,97.21 L50.02,98.93 L50.96,100.62 L51.91,102.27 L52.86,103.90 L53.80,105.48 L54.75,107.04 L55.70,108.56 L56.64,110.05 L57.59,111.52 L58.54,112.95 L59.48,114.36 L60.43,115.73 L61.38,117.09 L62.32,118.37 L63.27,119.58 L64.22,120.79 L65.17,121.99 L66.11,123.19 L67.06,124.37 L68.01,125.55 L68.95,126.71 L69.90,127.86 L70.85,129.00 L71.79,130.13 L72.74,131.23 L73.69,132.32 L74.63,133.40 L75.58,134.46 L76.53,135.50 L77.47,136.52 L78.42,137.53 L79.37,138.52 L80.32,139.49 L81.26,140.44 L82.21,141.38 L83.16,142.29 L84.10,143.18 L85.05,144.05 L86.00,144.90 L86.94,145.74 L87.89,146.56 L88.84,147.36 L89.78,148.15 L90.73,148.92 L91.68,149.68 L92.62,150.43 L93.57,151.16 L94.52,151.88 L95.47,152.59 L96.41,153.28 L97.36,153.97 L98.31,154.64 L99.25,155.30 L100.20,155.95 L101.15,156.59 L102.09,157.22 L103.04,157.83 L103.99,158.44 L104.93,159.04 L105.88,159.63 L106.83,160.21 L107.77,160.78 L108.72,161.35 L109.67,161.90 L110.62,162.44 L111.56,162.98 L112.51,163.51 L113.46,164.03 L114.40,164.54 L115.35,165.04 L116.30,165.54 L117.24,166.03 L118.19,166.51 L119.14,166.99 L120.08,167.45 L121.03,167.92 L121.98,168.37 L122.92,168.82 L123.87,169.26 L124.82,169.69 L125.76,170.12 L126.71,170.54 L127.66,170.96 L128.61,171.37 L129.55,171.77 L130.50,172.17 L131.45,172.57 L132.39,172.95 L133.34,173.33 L134.29,173.71 L135.23,174.08 L136.18,174.45 L137.13,174.81 L138.07,175.17 L139.02,175.52 L139.97,175.87 L140.91,176.21 L141.86,176.55 L142.81,176.88 L143.76,177.21 L144.70,177.53 L145.65,177.85 L146.60,178.17 L147.54,178.48 L148.49,178.79 L149.44,179.09 L150.38,179.39 L151.33,179.69 L152.28,179.98 L153.22,180.27 L154.17,180.56 L155.12,180.84 L156.06,181.12 L157.01,181.39 L157.96,181.66 L158.91,181.95 L159.85,182.23 L160.80,182.51 L161.75,182.79 L162.69,183.07 L163.64,183.34 L164.59,183.61 L165.53,183.88 L166.48,184.15 L167.43,184.42 L168.37,184.68 L169.32,184.94 L170.27,185.20 L171.21,185.46 L172.16,185.71 L173.11,185.97 L174.06,186.22 L175.00,186.47 L175.95,186.72 L176.90,186.97 L177.84,187.21 L178.79,187.45 L179.74,187.70 L180.68,187.94 L181.63,188.18 L182.58,188.41 L183.52,188.65 L184.47,188.88 L185.42,189.12 L186.36,189.35 L187.31,189.58 L188.26,189.81 L189.21,190.04 L190.15,190.26 L191.10,190.49 L192.05,190.71 L192.99,190.93 L193.94,191.16 L194.89,191.38 L195.83,191.60 L196.78,191.81 L197.73,192.03 L198.67,192.25 L199.62,192.46 L200.57,192.68 L201.51,192.89 L202.46,193.10 L203.41,193.31 L204.35,193.52 L205.30,193.72 L206.25,193.89 L207.20,194.05 L208.14,194.22 L209.09,194.39 L210.04,194.55 L210.98,194.71 L211.93,194.87 L212.88,195.03 L213.82,195.19 L214.77,195.34 L215.72,195.50 L216.66,195.65 L217.61,195.80 L218.56,195.95 L219.50,196.10 L220.45,196.25 L221.40,196.39 L222.35,196.54 L223.29,196.68 L224.24,196.82 L225.19,196.97 L226.13,197.11 L227.08,197.24 L228.03,197.38 L228.97,197.52 L229.92,197.65 L230.87,197.78 L231.81,197.92 L232.76,198.05 L233.71,198.18 L234.65,198.31 L235.60,198.44 L236.55,198.56 L237.50,198.69 L238.44,198.81 L239.39,198.94 L240.34,199.06 L241.28,199.18 L242.23,199.30 L243.18,199.42 L244.12,199.54 L245.07,199.66 L246.02,199.77 L246.96,199.89 L247.91,200.00 L248.86,200.12 L249.80,200.23 L250.75,200.34 L251.70,200.45 L252.65,200.56 L253.59,200.67 L254.54,200.78 L255.49,200.88 L256.43,200.99 L257.38,201.10 L258.33,201.20 L259.27,201.30 L260.22,201.41 L261.17,201.51 L262.11,201.61 L263.06,201.71 L264.01,201.81 L264.95,201.91 L265.90,202.01 L266.85,202.11 L267.79,202.20 L268.74,202.30 L269.69,202.39 L270.64,202.49 L271.58,202.58 L272.53,202.67 L273.48,202.77 L274.42,202.86 L275.37,202.95 L276.32,203.04 L277.26,203.13 L278.21,203.22 L279.16,203.30 L280.10,203.39 L281.05,203.48 L282.00,203.56 L282.94,203.65 L283.89,203.74 L284.84,203.82 L285.79,203.90 L286.73,203.99 L287.68,204.07 L288.63,204.15 L289.57,204.23 L290.52,204.31 L291.47,204.39 L292.41,204.47 L293.36,204.55 L294.31,204.63 L295.25,204.71 L296.20,204.78 L297.15,204.86 L298.09,204.94 L299.04,205.01 L299.99,205.09 L300.94,205.16 L301.88,205.23 L302.83,205.31 L303.78,205.38 L304.72,205.45 L305.67,205.52 L306.62,205.60 L307.56,205.67 L308.51,205.74 L309.46,205.81 L310.40,205.88 L311.35,205.94 L312.30,206.01 L313.24,206.08 L314.19,206.15 L315.14,206.22 L316.09,206.28 L317.03,206.35 L317.98,206.41 L318.93,206.48 L319.87,206.54 L320.82,206.61 L321.77,206.67 L322.71,206.74 L323.66,206.80 L324.61,206.86 L325.55,206.92 L326.50,206.98 L327.45,207.05 L328.39,207.11 L329.34,207.17 L330.29,207.23 L331.24,207.29 L332.18,207.35 L333.13,207.41 L334.08,207.46 L335.02,207.52 L335.97,207.58 L336.92,207.64 L337.86,207.70 L338.81,207.75 L339.76,207.81 L340.70,207.86 L341.65,207.92 L342.60,207.98 L343.54,208.03 L344.49,208.09 L345.44,208.14 L346.38,208.19 L347.33,208.25 L348.28,208.30 L349.23,208.35 L350.17,208.41 L351.12,208.46 L352.07,208.51 L353.01,208.56 L353.96,208.61 L354.91,208.66 L355.85,208.71 L356.80,208.76 L357.75,208.81 L358.69,208.86 L359.64,208.91 L360.59,208.96 L361.53,209.01 L362.48,209.06 L363.43,209.11 L364.38,209.16 L365.32,209.20 L366.27,209.25 L367.22,209.30 L368.16,209.35 L369.11,209.39 L370.06,209.44 L371.00,209.48 L371.95,209.53 L372.90,209.57 L373.84,209.62 L374.79,209.66 L375.74,209.71 L376.68,209.75 L377.63,209.80 L378.58,209.84 L379.53,209.89 L380.47,209.93 L381.42,209.97 L382.37,210.01 L383.31,210.06 L384.26,210.10 L385.21,210.14 L386.15,210.18 L387.10,210.23 L388.05,210.27 L388.99,210.31 L389.94,210.35 L390.89,210.39 L391.83,210.43 L392.78,210.47 L393.73,210.51 L394.68,210.55 L395.62,210.59 L396.57,210.63 L397.52,210.67 L398.46,210.71 L399.41,210.74 L400.36,210.78 L401.30,210.82 L402.25,210.86 L403.20,210.90 L404.14,210.93 L405.09,210.97 L406.04,211.01 L406.98,211.05 L407.93,211.08 L408.88,211.12 L409.83,211.16 L410.77,211.19 L411.72,211.23 L412.67,211.26 L413.61,211.30 L414.56,211.33 L415.51,211.37 L416.45,211.40 L417.40,211.44" fill="none" stroke="#dc2020" stroke-width="1.9" stroke-dasharray="4.8,3"/>
<clipPath id="gc"><path d="M39.60,-117.67 L41.04,-108.01 L42.49,-98.78 L43.93,-89.94 L45.37,-81.49 L46.82,-73.38 L48.26,-65.62 L49.71,-58.17 L51.15,-51.02 L52.59,-44.15 L54.04,-37.56 L55.48,-31.21 L56.92,-25.11 L58.37,-19.23 L59.81,-13.57 L61.25,-8.12 L62.70,-2.86 L64.14,2.22 L65.59,7.11 L67.03,11.84 L68.47,16.40 L69.92,20.82 L71.36,25.08 L72.80,29.21 L74.25,33.20 L75.69,37.03 L77.13,40.63 L78.58,44.01 L80.02,47.19 L81.47,50.19 L82.91,53.03 L84.35,55.71 L85.80,58.25 L87.24,60.67 L88.68,62.97 L90.13,65.17 L91.57,67.26 L93.01,69.27 L94.46,71.19 L95.90,73.03 L97.35,74.81 L98.79,76.52 L100.23,78.18 L101.68,79.78 L103.12,81.33 L104.56,82.83 L106.01,84.31 L107.45,85.75 L108.89,87.16 L110.34,88.55 L111.78,89.93 L113.23,91.29 L114.67,92.64 L116.11,93.98 L117.56,95.31 L119.00,96.65 L120.44,97.97 L121.89,99.29 L123.33,100.60 L124.77,101.90 L126.22,103.19 L127.66,104.47 L129.11,105.74 L130.55,107.00 L131.99,108.25 L133.44,109.48 L134.88,110.70 L136.32,111.91 L137.77,113.10 L139.21,114.28 L140.65,115.45 L142.10,116.60 L143.54,117.73 L144.98,118.85 L146.43,119.96 L147.87,121.05 L149.32,122.13 L150.76,123.19 L152.20,124.23 L153.65,125.26 L155.09,126.28 L156.53,127.28 L157.98,128.26 L159.42,129.23 L160.86,130.19 L162.31,131.13 L163.75,132.05 L165.20,132.96 L166.64,133.85 L168.08,134.74 L169.53,135.60 L170.97,136.45 L172.41,137.29 L173.86,138.11 L175.30,138.92 L176.74,139.72 L178.19,140.50 L179.63,141.27 L181.08,142.03 L182.52,142.77 L183.96,143.50 L185.41,144.22 L186.85,144.93 L188.29,145.62 L189.74,146.31 L191.18,146.98 L192.62,147.64 L194.07,148.29 L195.51,148.94 L196.96,149.57 L198.40,150.19 L199.84,150.80 L201.29,151.40 L202.73,151.99 L204.17,152.57 L205.62,153.14 L207.06,153.71 L208.50,154.26 L209.95,154.81 L211.39,155.35 L212.84,155.88 L214.28,156.40 L215.72,156.91 L217.17,157.42 L218.61,157.92 L220.05,158.41 L221.50,158.89 L222.94,159.37 L224.38,159.84 L225.83,160.30 L227.27,160.76 L228.72,161.20 L230.16,161.65 L231.60,162.08 L233.05,162.51 L234.49,162.93 L235.93,163.35 L237.38,163.76 L238.82,164.17 L240.26,164.57 L241.71,164.96 L243.15,165.35 L244.60,165.73 L246.04,166.11 L247.48,166.48 L248.93,166.85 L250.37,167.21 L251.81,167.56 L253.26,167.91 L254.70,168.26 L256.14,168.60 L257.59,168.94 L259.03,169.27 L260.48,169.60 L261.92,169.92 L263.36,170.24 L264.81,170.56 L266.25,170.87 L267.69,171.17 L269.14,171.48 L270.58,171.77 L272.02,172.07 L273.47,172.36 L274.91,172.65 L276.36,172.93 L277.80,173.21 L279.24,173.48 L280.69,173.75 L282.13,174.02 L283.57,174.29 L285.02,174.55 L286.46,174.81 L287.90,175.06 L289.35,175.31 L290.79,175.56 L292.24,175.80 L293.68,176.05 L295.12,176.28 L296.57,176.52 L298.01,176.75 L299.45,176.98 L300.90,177.21 L302.34,177.43 L303.78,177.65 L305.23,177.87 L306.67,178.09 L308.12,178.30 L309.56,178.51 L311.00,178.72 L312.45,178.92 L313.89,179.12 L315.33,179.32 L316.78,179.52 L318.22,179.72 L319.66,179.91 L321.11,180.10 L322.55,180.29 L323.99,180.47 L325.44,180.66 L326.88,180.84 L328.33,181.02 L329.77,181.19 L331.21,181.37 L332.66,181.54 L334.10,181.71 L335.54,181.88 L336.99,182.05 L338.43,182.21 L339.87,182.37 L341.32,182.53 L342.76,182.69 L344.21,182.85 L345.65,183.00 L347.09,183.16 L348.54,183.31 L349.98,183.46 L351.42,183.60 L352.87,183.75 L354.31,183.89 L355.75,184.04 L357.20,184.18 L358.64,184.32 L360.09,184.45 L361.53,184.59 L362.97,184.72 L364.42,184.86 L365.86,184.99 L367.30,185.12 L368.75,185.24 L370.19,185.37 L371.63,185.50 L373.08,185.62 L374.52,185.74 L375.97,185.86 L377.41,185.98 L378.85,186.10 L380.30,186.22 L381.74,186.33 L383.18,186.45 L384.63,186.56 L386.07,186.67 L387.51,186.78 L388.96,186.89 L390.40,186.99 L391.85,187.10 L393.29,187.21 L394.73,187.31 L396.18,187.41 L397.62,187.51 L399.06,187.61 L400.51,187.71 L401.95,187.81 L403.39,187.91 L404.84,188.00 L406.28,188.10 L407.73,188.19 L409.17,188.28 L410.61,188.37 L412.06,188.46 L413.50,188.55 L413.50,215.98 L412.06,215.97 L410.61,215.96 L409.17,215.95 L407.73,215.94 L406.28,215.92 L404.84,215.91 L403.39,215.90 L401.95,215.89 L400.51,215.87 L399.06,215.86 L397.62,215.85 L396.18,215.83 L394.73,215.82 L393.29,215.81 L391.85,215.79 L390.40,215.78 L388.96,215.76 L387.51,215.75 L386.07,215.74 L384.63,215.72 L383.18,215.71 L381.74,215.69 L380.30,215.67 L378.85,215.66 L377.41,215.64 L375.97,215.63 L374.52,215.61 L373.08,215.59 L371.63,215.58 L370.19,215.56 L368.75,215.54 L367.30,215.52 L365.86,215.50 L364.42,215.49 L362.97,215.47 L361.53,215.45 L360.09,215.43 L358.64,215.41 L357.20,215.39 L355.75,215.37 L354.31,215.35 L352.87,215.33 L351.42,215.31 L349.98,215.29 L348.54,215.27 L347.09,215.25 L345.65,215.22 L344.21,215.20 L342.76,215.18 L341.32,215.16 L339.87,215.13 L338.43,215.11 L336.99,215.09 L335.54,215.06 L334.10,215.04 L332.66,215.01 L331.21,214.99 L329.77,214.96 L328.33,214.94 L326.88,214.91 L325.44,214.88 L323.99,214.86 L322.55,214.83 L321.11,214.80 L319.66,214.77 L318.22,214.75 L316.78,214.72 L315.33,214.69 L313.89,214.66 L312.45,214.63 L311.00,214.60 L309.56,214.57 L308.12,214.54 L306.67,214.51 L305.23,214.47 L303.78,214.44 L302.34,214.41 L300.90,214.37 L299.45,214.34 L298.01,214.31 L296.57,214.27 L295.12,214.24 L293.68,214.20 L292.24,214.17 L290.79,214.13 L289.35,214.09 L287.90,214.05 L286.46,214.02 L285.02,213.98 L283.57,213.94 L282.13,213.90 L280.69,213.86 L279.24,213.82 L277.80,213.78 L276.36,213.74 L274.91,213.69 L273.47,213.65 L272.02,213.61 L270.58,213.56 L269.14,213.52 L267.69,213.47 L266.25,213.43 L264.81,213.38 L263.36,213.33 L261.92,213.28 L260.48,213.23 L259.03,213.18 L257.59,213.13 L256.14,213.08 L254.70,213.03 L253.26,212.98 L251.81,212.93 L250.37,212.87 L248.93,212.82 L247.48,212.76 L246.04,212.71 L244.60,212.65 L243.15,212.59 L241.71,212.53 L240.26,212.47 L238.82,212.41 L237.38,212.35 L235.93,212.29 L234.49,212.23 L233.05,212.16 L231.60,212.10 L230.16,212.03 L228.72,211.97 L227.27,211.90 L225.83,211.83 L224.38,211.76 L222.94,211.69 L221.50,211.61 L220.05,211.54 L218.61,211.47 L217.17,211.39 L215.72,211.32 L214.28,211.24 L212.84,211.16 L211.39,211.08 L209.95,211.00 L208.50,210.91 L207.06,210.83 L205.62,210.74 L204.17,210.66 L202.73,210.57 L201.29,210.48 L199.84,210.39 L198.40,210.30 L196.96,210.20 L195.51,210.11 L194.07,210.01 L192.62,209.91 L191.18,209.81 L189.74,209.71 L188.29,209.60 L186.85,209.50 L185.41,209.39 L183.96,209.28 L182.52,209.17 L181.08,209.06 L179.63,208.94 L178.19,208.83 L176.74,208.71 L175.30,208.59 L173.86,208.46 L172.41,208.34 L170.97,208.21 L169.53,208.08 L168.08,207.95 L166.64,207.81 L165.20,207.68 L163.75,207.54 L162.31,207.39 L160.86,207.25 L159.42,207.10 L157.98,206.95 L156.53,206.80 L155.09,206.64 L153.65,206.49 L152.20,206.32 L150.76,206.16 L149.32,205.99 L147.87,205.82 L146.43,205.65 L144.98,205.47 L143.54,205.29 L142.10,205.10 L140.65,204.91 L139.21,204.72 L137.77,204.52 L136.32,204.32 L134.88,204.12 L133.44,203.91 L131.99,203.70 L130.55,203.48 L129.11,203.26 L127.66,203.03 L126.22,202.80 L124.77,202.56 L123.33,202.32 L121.89,202.07 L120.44,201.82 L119.00,201.56 L117.56,201.30 L116.11,201.03 L114.67,200.75 L113.23,200.47 L111.78,200.18 L110.34,199.88 L108.89,199.58 L107.45,199.27 L106.01,198.95 L104.56,198.63 L103.12,198.30 L101.68,197.96 L100.23,197.61 L98.79,197.25 L97.35,196.89 L95.90,196.51 L94.46,196.13 L93.01,195.73 L91.57,195.33 L90.13,194.91 L88.68,194.49 L87.24,194.05 L85.80,193.60 L84.35,193.14 L82.91,192.67 L81.47,192.18 L80.02,191.68 L78.58,191.17 L77.13,190.64 L75.69,190.10 L74.25,189.55 L72.80,188.97 L71.36,188.38 L69.92,187.78 L68.47,187.15 L67.03,186.51 L65.59,185.85 L64.14,185.16 L62.70,184.46 L61.25,183.73 L59.81,182.99 L58.37,182.22 L56.92,181.42 L55.48,180.60 L54.04,179.75 L52.59,178.88 L51.15,177.98 L49.71,177.04 L48.26,176.08 L46.82,175.08 L45.37,174.05 L43.93,172.98 L42.49,171.88 L41.04,170.74 L39.60,169.56Z"/></clipPath>
<path d="M43.80,34.3 V226.3 M52.19,34.3 V226.3 M60.59,34.3 V226.3 M68.98,34.3 V226.3 M77.38,34.3 V226.3 M85.78,34.3 V226.3 M94.17,34.3 V226.3 M102.57,34.3 V226.3 M110.96,34.3 V226.3 M119.36,34.3 V226.3 M127.75,34.3 V226.3 M136.15,34.3 V226.3 M144.54,34.3 V226.3 M152.94,34.3 V226.3 M161.34,34.3 V226.3 M169.73,34.3 V226.3 M178.13,34.3 V226.3 M186.52,34.3 V226.3 M194.92,34.3 V226.3 M203.31,34.3 V226.3 M211.71,34.3 V226.3 M220.10,34.3 V226.3 M228.50,34.3 V226.3 M236.90,34.3 V226.3 M245.29,34.3 V226.3 M253.69,34.3 V226.3 M262.08,34.3 V226.3 M270.48,34.3 V226.3 M278.87,34.3 V226.3 M287.27,34.3 V226.3 M295.66,34.3 V226.3 M304.06,34.3 V226.3 M312.46,34.3 V226.3 M320.85,34.3 V226.3 M329.25,34.3 V226.3 M337.64,34.3 V226.3 M346.04,34.3 V226.3 M354.43,34.3 V226.3 M362.83,34.3 V226.3 M371.22,34.3 V226.3 M379.62,34.3 V226.3 M388.02,34.3 V226.3 M396.41,34.3 V226.3 M404.81,34.3 V226.3" clip-path="url(#gc)" fill="none" stroke="#000" stroke-opacity="0.055" stroke-width="0.8"/>
<path d="M39.60,55.22 L41.06,61.30 L42.52,66.94 L43.98,72.18 L45.43,77.06 L46.89,81.62 L48.35,85.88 L49.81,89.88 L51.27,93.64 L52.73,97.18 L54.19,100.51 L55.65,103.67 L57.10,106.66 L58.56,109.49 L60.02,112.18 L61.48,114.75 L62.94,117.19 L64.40,119.52 L65.86,121.75 L67.32,123.88 L68.77,125.92 L70.23,127.88 L71.69,129.76 L73.15,131.56 L74.61,133.30 L76.07,134.97 L77.53,136.58 L78.98,138.13 L80.44,139.63 L81.90,141.08 L83.36,142.48 L84.82,143.84 L86.28,145.15 L87.74,146.43 L89.20,147.66 L90.65,148.86 L92.11,150.03 L93.57,151.16 L95.03,152.26 L96.49,153.34 L97.95,154.38 L99.41,155.40 L100.86,156.40 L102.32,157.37 L103.78,158.31 L105.24,159.23 L106.70,160.13 L108.16,161.01 L109.62,161.87 L111.08,162.71 L112.53,163.52 L113.99,164.32 L115.45,165.10 L116.91,165.86 L118.37,166.60 L119.83,167.33 L121.29,168.04 L122.75,168.73 L124.20,169.41 L125.66,170.07 L127.12,170.72 L128.58,171.36 L130.04,171.98 L131.50,172.59 L132.96,173.18 L134.41,173.76 L135.87,174.33 L137.33,174.89 L138.79,175.44 L140.25,175.97 L141.71,176.49 L143.17,177.01 L144.63,177.51 L146.08,178.00 L147.54,178.48 L149.00,178.96 L150.46,179.42 L151.92,179.87 L153.38,180.32 L154.84,180.75 L156.29,181.18 L157.75,181.60 L159.21,182.01 L160.67,182.42 L162.13,182.82 L163.59,183.20 L165.05,183.59 L166.51,183.96 L167.96,184.33 L169.42,184.69 L170.88,185.04 L172.34,185.39 L173.80,185.73 L175.26,186.07 L176.72,186.40 L178.18,186.72 L179.63,187.04 L181.09,187.35 L182.55,187.66 L184.01,187.96 L185.47,188.26 L186.93,188.55 L188.39,188.84 L189.84,189.12 L191.30,189.40 L192.76,189.67 L194.22,189.94 L195.68,190.21 L197.14,190.47 L198.60,190.73 L200.06,190.98 L201.51,191.23 L202.97,191.47 L204.43,191.72 L205.89,191.95 L207.35,192.19 L208.81,192.42 L210.27,192.65 L211.73,192.87 L213.18,193.09 L214.64,193.31 L216.10,193.52 L217.56,193.73 L219.02,193.94 L220.48,194.15 L221.94,194.35 L223.39,194.55 L224.85,194.75 L226.31,194.94 L227.77,195.14 L229.23,195.33 L230.69,195.51 L232.15,195.70 L233.61,195.88 L235.06,196.06 L236.52,196.24 L237.98,196.41 L239.44,196.59 L240.90,196.76 L242.36,196.93 L243.82,197.09 L245.27,197.26 L246.73,197.42 L248.19,197.58 L249.65,197.74 L251.11,197.90 L252.57,198.05 L254.03,198.20 L255.49,198.35 L256.94,198.50 L258.40,198.65 L259.86,198.80 L261.32,198.94 L262.78,199.09 L264.24,199.23 L265.70,199.37 L267.16,199.50 L268.61,199.64 L270.07,199.78 L271.53,199.91 L272.99,200.04 L274.45,200.17 L275.91,200.30 L277.37,200.43 L278.82,200.55 L280.28,200.68 L281.74,200.80 L283.20,200.93 L284.66,201.05 L286.12,201.17 L287.58,201.29 L289.04,201.40 L290.49,201.52 L291.95,201.63 L293.41,201.75 L294.87,201.86 L296.33,201.97 L297.79,202.08 L299.25,202.19 L300.71,202.30 L302.16,202.41 L303.62,202.51 L305.08,202.62 L306.54,202.72 L308.00,202.83 L309.46,202.93 L310.92,203.03 L312.37,203.13 L313.83,203.23 L315.29,203.33 L316.75,203.43 L318.21,203.52 L319.67,203.62 L321.13,203.72 L322.59,203.81 L324.04,203.90 L325.50,204.00 L326.96,204.09 L328.42,204.18 L329.88,204.27 L331.34,204.36 L332.80,204.45 L334.25,204.53 L335.71,204.62 L337.17,204.71 L338.63,204.79 L340.09,204.88 L341.55,204.96 L343.01,205.04 L344.47,205.13 L345.92,205.21 L347.38,205.29 L348.84,205.37 L350.30,205.45 L351.76,205.53 L353.22,205.61 L354.68,205.69 L356.14,205.77 L357.59,205.84 L359.05,205.92 L360.51,205.99 L361.97,206.07 L363.43,206.14 L364.89,206.22 L366.35,206.29 L367.80,206.36 L369.26,206.44 L370.72,206.51 L372.18,206.58 L373.64,206.65 L375.10,206.72 L376.56,206.79 L378.02,206.86 L379.47,206.93 L380.93,206.99 L382.39,207.06 L383.85,207.13 L385.31,207.20 L386.77,207.26 L388.23,207.33 L389.68,207.39 L391.14,207.46 L392.60,207.52 L394.06,207.58 L395.52,207.65 L396.98,207.71 L398.44,207.77 L399.90,207.84 L401.35,207.90 L402.81,207.96 L404.27,208.02 L405.73,208.08 L407.19,208.14 L408.65,208.20 L410.11,208.26 L411.57,208.32 L413.02,208.37 L414.48,208.43 L415.94,208.49 L417.40,208.55" fill="none" stroke="#5c5f5d" stroke-width="1.9" stroke-dasharray="1.8,1.2"/>
<path d="M39.60,55.22 L40.21,57.83 L40.83,60.36 L41.44,62.81 L42.05,65.18 L42.66,67.48 L43.28,69.71 L43.89,71.88 L44.50,73.98 L45.11,76.02 L45.73,78.00 L46.34,79.93 L46.95,81.80 L47.56,83.62 L48.18,85.39 L48.79,87.11 L49.40,88.79 L50.02,90.42 L50.63,92.02 L51.24,93.57 L51.85,95.08 L52.47,96.56 L53.08,98.00 L53.69,99.40 L54.30,100.77 L54.92,102.11 L55.53,103.42 L56.14,104.70 L56.75,105.96 L57.37,107.18 L57.98,108.38 L58.59,109.55 L59.21,110.69 L59.82,111.82 L60.43,112.91 L61.04,113.99 L61.66,115.05 L62.27,116.08 L62.88,117.10 L63.49,118.09 L64.11,119.06 L64.72,120.02 L65.33,120.96 L65.94,121.88 L66.56,122.78 L67.17,123.67 L67.78,124.54 L68.39,125.40 L69.01,126.24 L69.62,127.07 L70.23,127.88 L70.85,128.68 L71.46,129.46 L72.07,130.23 L72.68,130.99 L73.30,131.74 L73.91,132.47 L74.52,133.19 L75.13,133.91 L75.75,134.60 L76.36,135.29 L76.97,135.97 L77.58,136.64 L78.20,137.30 L78.81,137.95 L79.42,138.59 L80.04,139.22 L80.65,139.84 L81.26,140.45 L81.87,141.05 L82.49,141.65 L83.10,142.23 L83.71,142.81 L84.32,143.38 L84.94,143.94 L85.55,144.50 L86.16,145.05 L86.77,145.59 L87.39,146.12 L88.00,146.65" fill="none" stroke="#707070" stroke-width="1.7" stroke-opacity="0.8"/>
<path d="M88.00,146.65 L89.04,147.53 L90.08,148.39 L91.11,149.23 L92.15,150.06 L93.19,150.87 L94.23,151.66 L95.27,152.44 L96.30,153.20 L97.34,153.95 L98.38,154.69 L99.42,155.41 L100.46,156.12 L101.49,156.82 L102.53,157.50 L103.57,158.18 L104.61,158.84 L105.65,159.49 L106.68,160.12 L107.72,160.75 L108.76,161.37 L109.80,161.97 L110.84,162.57 L111.87,163.15 L112.91,163.73 L113.95,164.30 L114.99,164.85 L116.03,165.40 L117.06,165.94 L118.10,166.47 L119.14,166.99 L120.18,167.50 L121.22,168.00 L122.25,168.50 L123.29,168.99 L124.33,169.47 L125.37,169.94 L126.41,170.41 L127.44,170.86 L128.48,171.32 L129.52,171.76 L130.56,172.20 L131.59,172.63 L132.63,173.05 L133.67,173.47 L134.71,173.88 L135.75,174.28 L136.78,174.68 L137.82,175.07 L138.86,175.46 L139.90,175.84 L140.94,176.22 L141.97,176.59 L143.01,176.95 L144.05,177.31 L145.09,177.67 L146.13,178.01 L147.16,178.36 L148.20,178.70 L149.24,179.03 L150.28,179.36 L151.32,179.69 L152.35,180.01 L153.39,180.32 L154.43,180.63 L155.47,180.94 L156.51,181.24 L157.54,181.54 L158.58,181.84 L159.62,182.13 L160.66,182.42 L161.70,182.70 L162.73,182.98 L163.77,183.25 L164.81,183.52 L165.85,183.79 L166.89,184.06 L167.92,184.32 L168.96,184.58 L170.00,184.83" fill="none" stroke="#707070" stroke-width="1.8" stroke-opacity="0.45"/>
</g>
<path d="M43.6,37.8 H40.5 V54 H43.6" fill="none" stroke="#000" stroke-width="1.8"/>
<path d="M44.8,61.3 H51.2 M48.0,61.3 V76.8 M44.8,76.8 H51.2" fill="none" stroke="#000" stroke-width="1.8"/>
<path d="M53.199999999999996,84.5 H59.6 M56.4,84.5 V92.1 M53.199999999999996,92.1 H59.6" fill="none" stroke="#000" stroke-width="1.8"/>
<path d="M61.599999999999994,103.8 H68.0 M64.8,103.8 V111.3 M61.599999999999994,111.3 H68.0" fill="none" stroke="#000" stroke-width="1.8"/>
<path d="M70.0,110.5 H76.4 M73.2,110.5 V126.5 M70.0,126.5 H76.4" fill="none" stroke="#000" stroke-width="1.8"/>
<path d="M78.39999999999999,119.1 H84.8 M81.6,119.1 V134.1 M78.39999999999999,134.1 H84.8" fill="none" stroke="#000" stroke-width="1.8"/>
<path d="M95.2,138.1 H101.60000000000001 M98.4,138.1 V153 M95.2,153 H101.60000000000001" fill="none" stroke="#000" stroke-width="1.8"/>
<path d="M120.39999999999999,164.8 H126.8 M123.6,164.8 V173.3 M120.39999999999999,173.3 H126.8" fill="none" stroke="#000" stroke-width="1.8"/>
<rect x="39.6" y="34.3" width="377.79999999999995" height="192.0" fill="none" stroke="#111" stroke-width="0.8"/>
<path d="M415.9,211 H418.59999999999997" stroke="#f01414" stroke-width="2.2" stroke-linecap="round" fill="none"/>
<path d="M415.9,216.2 H418.59999999999997" stroke="#0000ff" stroke-width="2.4" stroke-linecap="round" fill="none"/>
<path d="M387.5,49.2 H407" stroke="#0000ff" stroke-width="2" fill="none"/>
<path d="M387.5,72 H407" stroke="#ff0000" stroke-width="2.2" stroke-dasharray="4.8,3" fill="none"/>
<path d="M387.9,95.6 H405.8" stroke="#666" stroke-width="2.1" stroke-dasharray="2.1,0.9" fill="none"/>
<path d="M388.6,115.1 V121 M388.6,118.05 H405.6 M405.6,115.1 V121" stroke="#000" stroke-width="1.8" fill="none"/>
</svg>
<div class="t" style="left:127.6px;width:200px;text-align:center;top:11.6px;transform:scaleX(1.075);transform-origin:50% 50%">2+1 and 3 Flavors, &mu;<span class="sub">B</span>=400 MeV</div>
<div class="t" style="left:21.40px;width:40px;text-align:center;top:230.8px;transform:scaleX(1.075);transform-origin:50% 50%">0.2</div>
<div class="t" style="left:63.38px;width:40px;text-align:center;top:230.8px;transform:scaleX(1.075);transform-origin:50% 50%">0.3</div>
<div class="t" style="left:105.36px;width:40px;text-align:center;top:230.8px;transform:scaleX(1.075);transform-origin:50% 50%">0.4</div>
<div class="t" style="left:147.33px;width:40px;text-align:center;top:230.8px;transform:scaleX(1.075);transform-origin:50% 50%">0.5</div>
<div class="t" style="left:189.31px;width:40px;text-align:center;top:230.8px;transform:scaleX(1.075);transform-origin:50% 50%">0.6</div>
<div class="t" style="left:231.29px;width:40px;text-align:center;top:230.8px;transform:scaleX(1.075);transform-origin:50% 50%">0.7</div>
<div class="t" style="left:273.27px;width:40px;text-align:center;top:230.8px;transform:scaleX(1.075);transform-origin:50% 50%">0.8</div>
<div class="t" style="left:315.24px;width:40px;text-align:center;top:230.8px;transform:scaleX(1.075);transform-origin:50% 50%">0.9</div>
<div class="t" style="left:357.22px;width:40px;text-align:center;top:230.8px;transform:scaleX(1.075);transform-origin:50% 50%">1</div>
<div class="t" style="left:399.20px;width:40px;text-align:center;top:230.8px;transform:scaleX(1.075);transform-origin:50% 50%">1.1</div>
<div class="t" style="left:0px;width:33.6px;text-align:right;top:219.90px;transform:scaleX(1.075);transform-origin:100% 50%">0</div>
<div class="t" style="left:0px;width:33.6px;text-align:right;top:181.50px;transform:scaleX(1.075);transform-origin:100% 50%">1</div>
<div class="t" style="left:0px;width:33.6px;text-align:right;top:143.10px;transform:scaleX(1.075);transform-origin:100% 50%">2</div>
<div class="t" style="left:0px;width:33.6px;text-align:right;top:104.70px;transform:scaleX(1.075);transform-origin:100% 50%">3</div>
<div class="t" style="left:0px;width:33.6px;text-align:right;top:66.30px;transform:scaleX(1.075);transform-origin:100% 50%">4</div>
<div class="t" style="left:0px;width:33.6px;text-align:right;top:27.90px;transform:scaleX(1.075);transform-origin:100% 50%">5</div>
<div class="t" style="left:178.5px;width:100px;text-align:center;top:247.6px;transform:scaleX(1.075);transform-origin:50% 50%">T [GeV]</div>
<div class="t" style="left:82px;width:300px;text-align:right;top:43.1px;transform:scaleX(1.075);transform-origin:100% 50%">2+1 Flavors NLO pQCD with m<span class="sub">f</span>&ne;0</div>
<div class="t" style="left:82px;width:300px;text-align:right;top:65.9px;transform:scaleX(1.075);transform-origin:100% 50%">3 Flavors NLO pQCD with m<span class="sub">f</span>=300MeV</div>
<div class="t" style="left:82px;width:300px;text-align:right;top:89.2px;transform:scaleX(1.075);transform-origin:100% 50%">massless NNLO HTLpt</div>
<div class="t" style="left:82px;width:300px;text-align:right;top:112.2px;transform:scaleX(1.075);transform-origin:100% 50%">WB</div>
<div class="t" style="left:-89.7px;top:119.8px;width:200px;text-align:center;transform:rotate(-90deg);transform-origin:50% 50%">(&epsilon;-3p)/T<span class="sup">4</span></div>
</body></html>
